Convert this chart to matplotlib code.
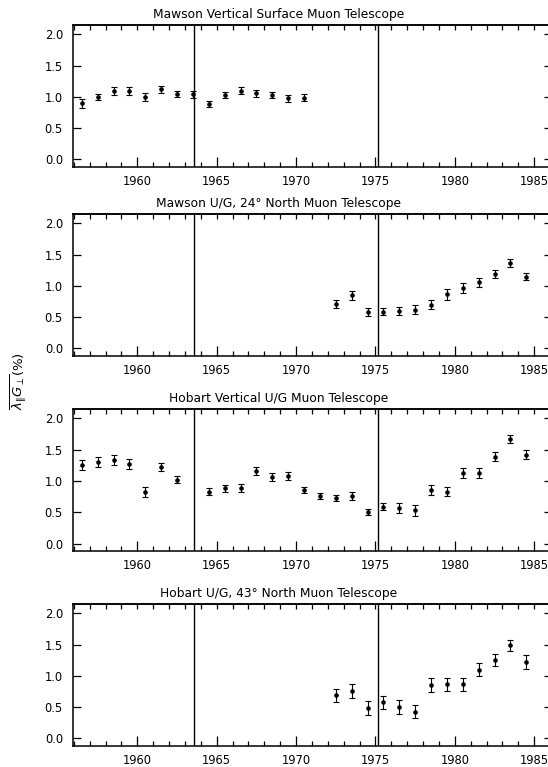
import matplotlib.pyplot as plt
from matplotlib.ticker import MultipleLocator

plt.rcParams["font.family"] = ["DejaVu Sans"]
plt.rcParams["font.size"] = 8

# Yearly values and standard errors for each telescope
mawson_surf_years = [1956.5, 1957.5, 1958.5, 1959.5, 1960.5, 1961.5, 1962.5, 1963.5,
                     1964.5, 1965.5, 1966.5, 1967.5, 1968.5, 1969.5, 1970.5]
mawson_surf_vals = [0.90, 1.00, 1.09, 1.09, 1.00, 1.12, 1.05, 1.04,
                    0.89, 1.03, 1.10, 1.06, 1.03, 0.98, 0.99]
mawson_surf_errs = [0.07, 0.05, 0.065, 0.065, 0.07, 0.05, 0.05, 0.05,
                    0.05, 0.055, 0.055, 0.055, 0.055, 0.055, 0.055]

mawson_n24_years = [1972.5, 1973.5, 1974.5, 1975.5, 1976.5, 1977.5, 1978.5,
                    1979.5, 1980.5, 1981.5, 1982.5, 1983.5, 1984.5]
mawson_n24_vals = [0.71, 0.85, 0.58, 0.59, 0.605, 0.62, 0.70,
                   0.865, 0.965, 1.055, 1.19, 1.36, 1.15]
mawson_n24_errs = [0.07, 0.075, 0.06, 0.06, 0.065, 0.07, 0.075,
                   0.085, 0.085, 0.075, 0.07, 0.065, 0.05]

hobart_vert_years = [1956.5, 1957.5, 1958.5, 1959.5, 1960.5, 1961.5, 1962.5,
                     1964.5, 1965.5, 1966.5, 1967.5, 1968.5, 1969.5, 1970.5,
                     1971.5, 1972.5, 1973.5, 1974.5, 1975.5, 1976.5, 1977.5,
                     1978.5, 1979.5, 1980.5, 1981.5, 1982.5, 1983.5, 1984.5]
hobart_vert_vals = [1.25, 1.30, 1.33, 1.27, 0.82, 1.22, 1.02,
                    0.83, 0.88, 0.89, 1.16, 1.06, 1.08, 0.86,
                    0.76, 0.73, 0.76, 0.50, 0.59, 0.57, 0.53,
                    0.85, 0.83, 1.12, 1.12, 1.39, 1.67, 1.42]
hobart_vert_errs = [0.08, 0.08, 0.08, 0.08, 0.08, 0.06, 0.06,
                    0.06, 0.05, 0.06, 0.07, 0.06, 0.06, 0.05,
                    0.05, 0.05, 0.06, 0.05, 0.05, 0.08, 0.09,
                    0.08, 0.07, 0.08, 0.08, 0.07, 0.07, 0.07]

hobart_n43_years = [1972.5, 1973.5, 1974.5, 1975.5, 1976.5, 1977.5, 1978.5,
                    1979.5, 1980.5, 1981.5, 1982.5, 1983.5, 1984.5]
hobart_n43_vals = [0.69, 0.76, 0.49, 0.58, 0.50, 0.43, 0.855,
                   0.865, 0.865, 1.10, 1.255, 1.49, 1.22]
hobart_n43_errs = [0.10, 0.105, 0.11, 0.105, 0.11, 0.11, 0.105,
                   0.10, 0.10, 0.10, 0.10, 0.09, 0.11]

titles = ["Mawson Vertical Surface Muon Telescope",
          "Mawson U/G, 24\u00b0 North Muon Telescope",
          "Hobart Vertical U/G Muon Telescope",
          "Hobart U/G, 43\u00b0 North Muon Telescope"]
series = [(mawson_surf_years, mawson_surf_vals, mawson_surf_errs),
          (mawson_n24_years, mawson_n24_vals, mawson_n24_errs),
          (hobart_vert_years, hobart_vert_vals, hobart_vert_errs),
          (hobart_n43_years, hobart_n43_vals, hobart_n43_errs)]
epoch_lines = [1963.55, 1975.15]

fig = plt.figure(figsize=(5.48, 7.67), dpi=100)

# panel bottoms in figure fraction, all panels same size
bottoms = [0.7823, 0.5359, 0.2816, 0.0274]
left, width, height = 0.1327, 0.8740, 0.1851

for (yrs, vals, errs), title, b in zip(series, titles, bottoms):
    ax = fig.add_axes([left, b, width, height])
    ax.errorbar(yrs, vals, yerr=errs, fmt="o", color="black", markersize=2.3,
                elinewidth=0.8, capsize=2.3, capthick=0.8)
    for x in epoch_lines:
        ax.axvline(x, color="black", linewidth=1.0)

    ax.set_xlim(1955.93, 1986.1)
    ax.set_ylim(-0.12, 2.15)
    ax.xaxis.set_major_locator(MultipleLocator(5))
    ax.xaxis.set_minor_locator(MultipleLocator(1))
    ax.yaxis.set_major_locator(MultipleLocator(0.5))
    ax.yaxis.set_major_formatter(plt.FormatStrFormatter("%.1f"))
    ax.tick_params(axis="x", which="major", direction="in", length=7, width=0.9,
                   pad=5.5, top=False, labelsize=8.3)
    ax.tick_params(axis="x", which="minor", direction="in", length=3.6, width=0.9,
                   top=False)
    ax.tick_params(axis="y", which="major", direction="in", length=6, width=0.9,
                   pad=7, right=True, labelsize=8.3)
    for sp in ax.spines.values():
        sp.set_linewidth(1.1)

    # top edge carries only the short yearly ticks
    top = ax.secondary_xaxis("top")
    top.xaxis.set_major_locator(MultipleLocator(1))
    top.tick_params(direction="in", length=3.6, width=0.9, labeltop=False)
    top.spines["top"].set_linewidth(1.1)

    ax.set_title(title, x=0.43, pad=5, fontsize=8.8)

fig.text(19 / 548, 0.503, r"$\overline{\lambda_{\|}G_{\perp}}$(%)", rotation=90,
         ha="center", va="center", fontsize=9.5)

fig.savefig("out.png", dpi=100)
